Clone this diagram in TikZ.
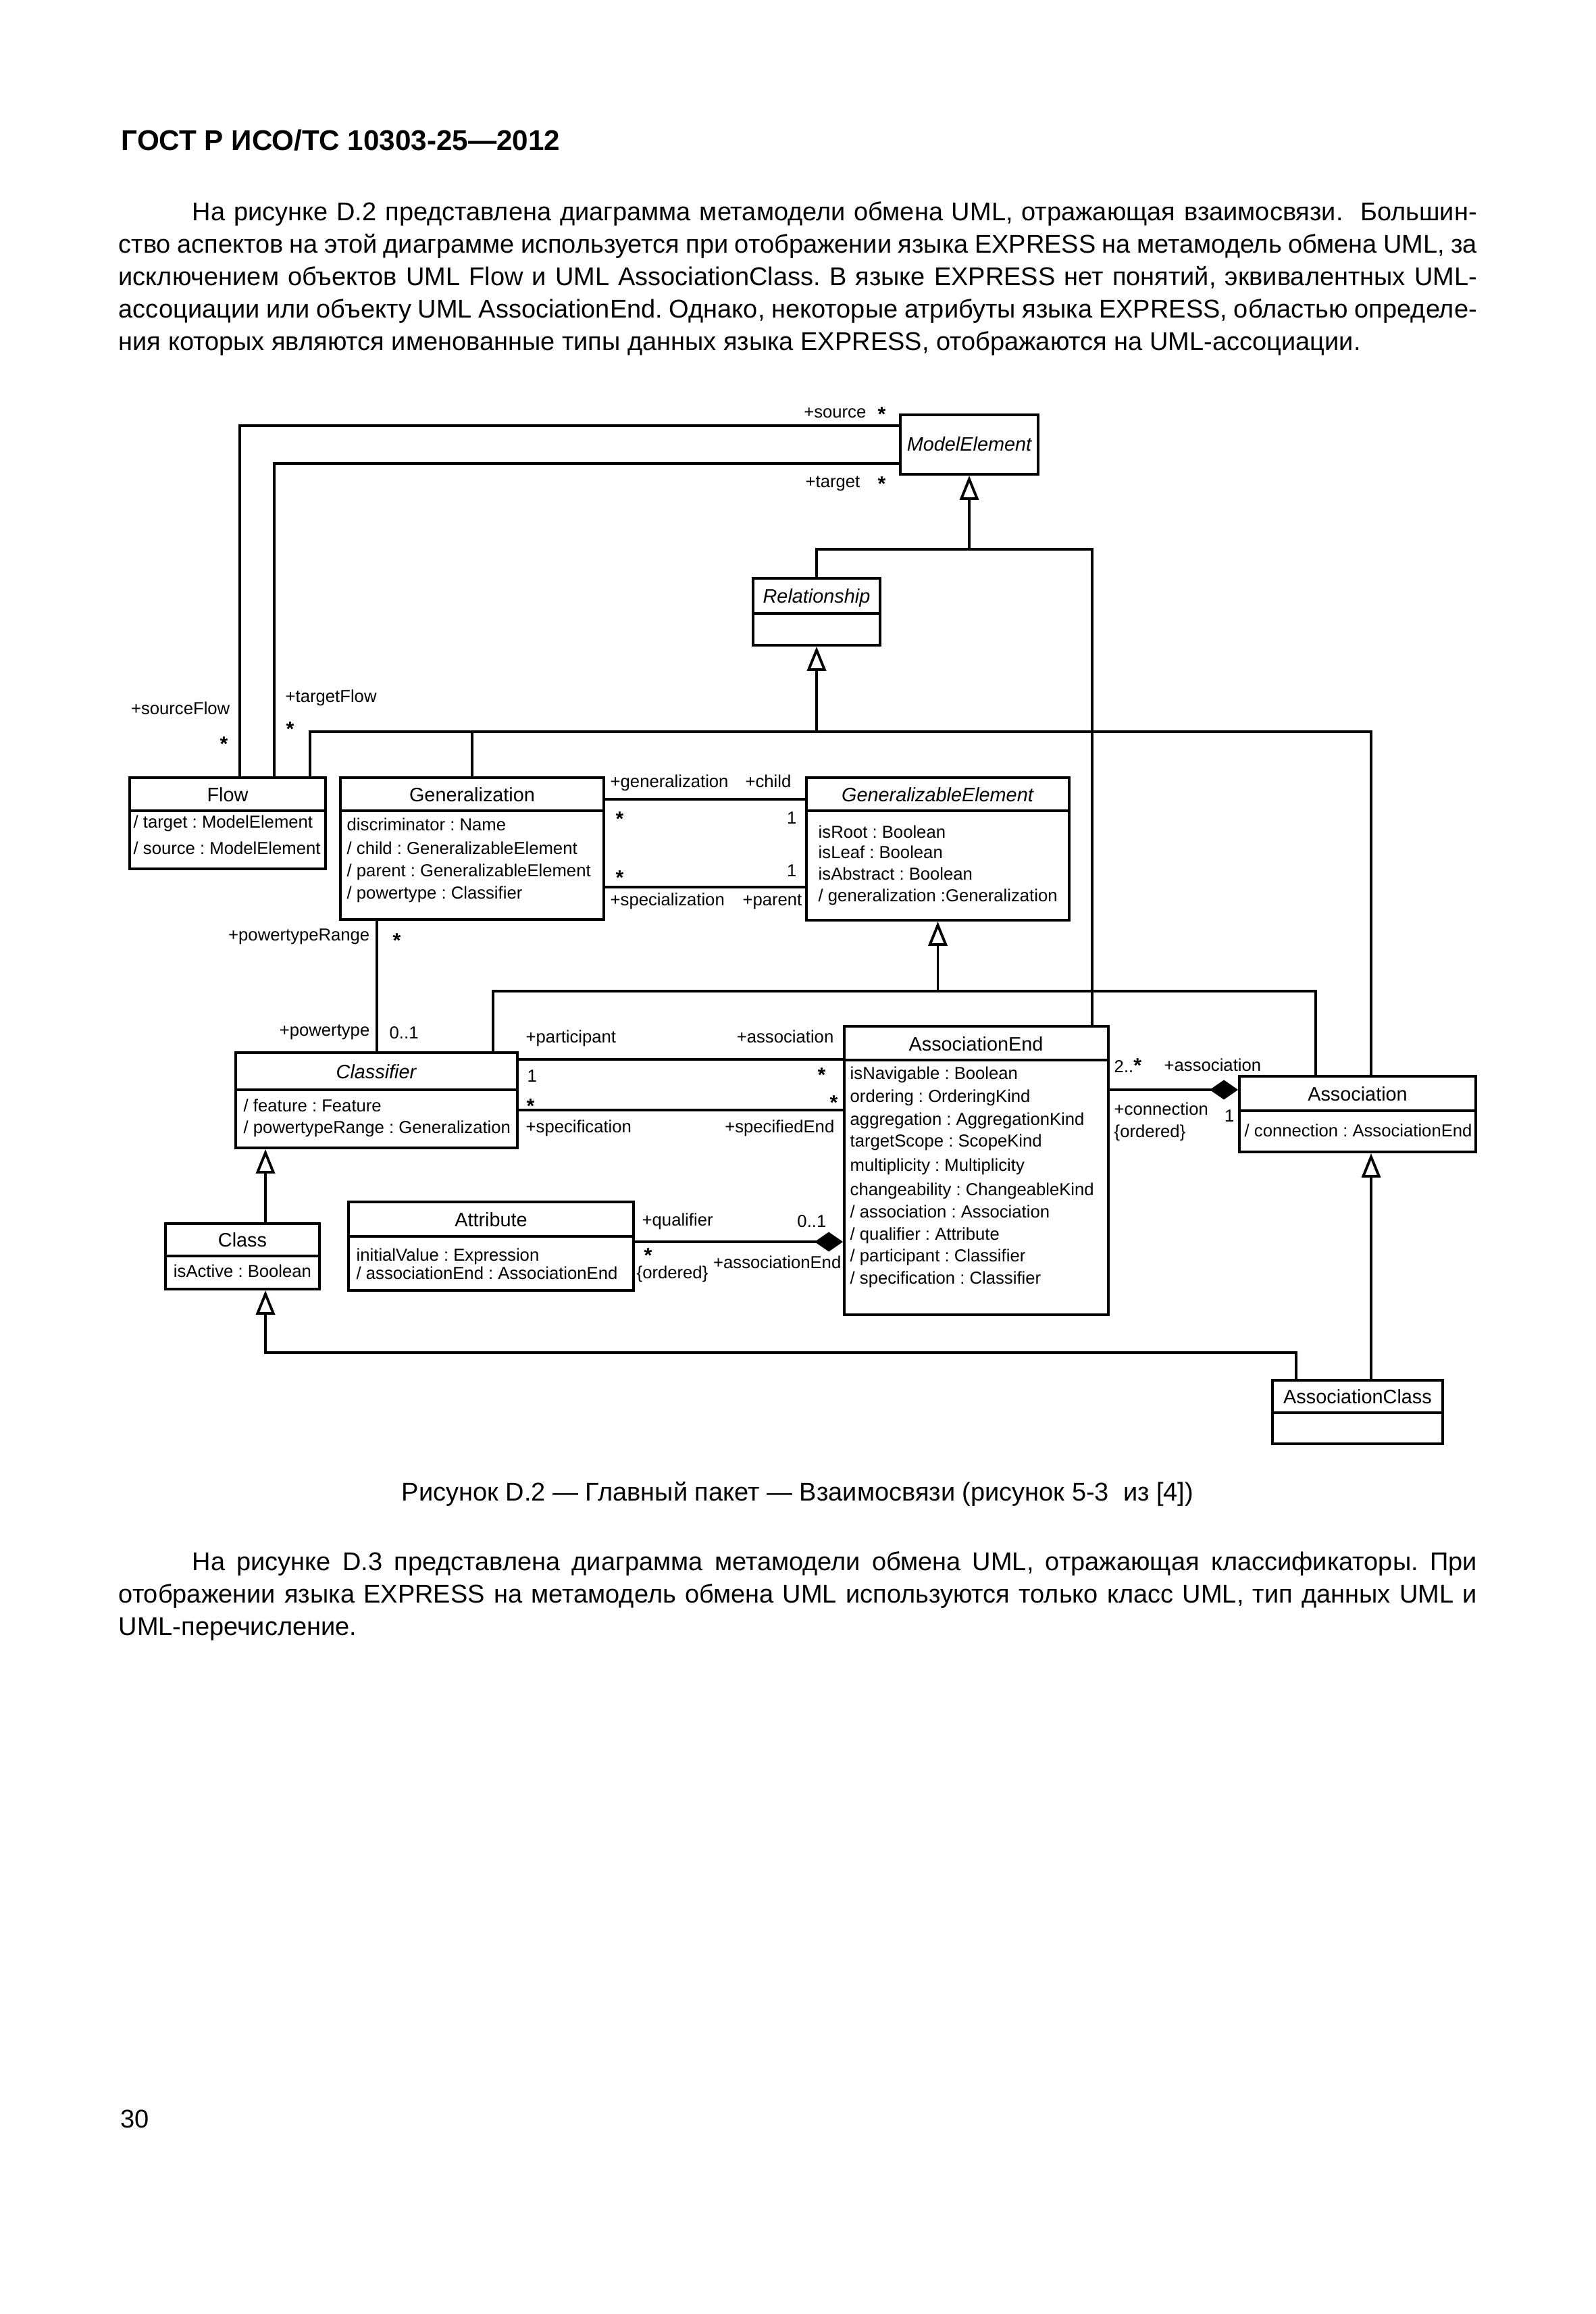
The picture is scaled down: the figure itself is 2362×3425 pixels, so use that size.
\documentclass[tikz,border=0pt]{standalone}
\usepackage{fontspec}
\setmainfont{Liberation Sans}
\usetikzlibrary{arrows.meta,fit}
\frenchspacing
\newcommand\dgtxt{\fontsize{7.3}{8.8}\selectfont}
\newcommand\dgname{\fontsize{8.2}{9.8}\selectfont}
\newcommand\bodytxt{\fontsize{10.8}{13.7}\selectfont}
\newcommand\headtxt{\fontsize{12}{14}\selectfont\bfseries}
\newcommand\mstar{{\fontsize{8.6}{9}\selectfont\bfseries *}}
\begin{document}
\begin{tikzpicture}[x=0.01cm,y=-0.01cm,
  cline/.style={line width=1pt},
  umlbox/.style={draw,line width=1.1pt,inner sep=0pt},
  genz/.style={cline,-{Triangle[open,length=0.36cm,width=0.28cm,line width=1.1pt]}},
  compo/.style={cline,-{Diamond[length=0.42cm,width=0.29cm]}},
  lbw/.style={inner sep=0pt,font=\dgtxt,anchor=base west},
  lbe/.style={inner sep=0pt,font=\dgtxt,anchor=base east},
  nm/.style={inner sep=0pt,font=\dgname,anchor=base},
  nmi/.style={inner sep=0pt,font=\dgname\itshape,anchor=base},
  attrx/.style={inner sep=0pt,font=\dgtxt,anchor=base west},
  bt/.style={inner sep=0pt,font=\bodytxt,anchor=base west}]
\useasboundingbox (0,0) rectangle (2362,3425);
\fill[white] (0,0) rectangle (2362,3425);

% ---------- page text ----------
\node[inner sep=0pt,font=\headtxt,anchor=base west] (head) at (179,223) {ГОСТ Р ИСО/ТС 10303-25—2012};
\node[bt] (p1) at (284,327) {\makebox[19.01cm][s]{На рисунке D.2 представлена диаграмма метамодели обмена UML, отражающая взаимосвязи. \ Большин-}};
\node[bt] (p2) at (175,375) {\makebox[20.10cm][s]{ство аспектов на этой диаграмме используется при отображении языка EXPRESS на метамодель обмена UML, за}};
\node[bt] (p3) at (175,423) {\makebox[20.10cm][s]{исключением объектов UML Flow и UML AssociationClass. В языке EXPRESS нет понятий, эквивалентных UML-}};
\node[bt] (p4) at (175,471) {\makebox[20.10cm][s]{ассоциации или объекту UML AssociationEnd. Однако, некоторые атрибуты языка EXPRESS, областью определе-}};
\node[bt] (p5) at (175,519) {ния которых являются именованные типы данных языка EXPRESS, отображаются на UML-ассоциации.};

\node[inner sep=0pt,font=\bodytxt,anchor=base] (cap) at (1181,2221) {Рисунок D.2 — Главный пакет — Взаимосвязи (рисунок 5-3\ \ из [4])};
\node[bt] (q1) at (284,2324) {\makebox[19.01cm][s]{На рисунке D.3 представлена диаграмма метамодели обмена UML, отражающая классификаторы. При}};
\node[bt] (q2) at (175,2372) {\makebox[20.10cm][s]{отображении языка EXPRESS на метамодель обмена UML используются только класс UML, тип данных UML и}};
\node[bt] (q3) at (175,2420) {UML-перечисление.};
\node[bt] (pg) at (178,3149) {30};

% ---------- boxes ----------
\node[umlbox,fit={(1333,614) (1537,702)}] (me) {};
\node[umlbox,fit={(1115,856) (1303,955)}] (rel) {};
\draw[umlbox] (rel.west |- 0,908) -- (rel.east |- 0,908);
\node[umlbox,fit={(192,1151) (482,1286)}] (flow) {};
\draw[umlbox] (flow.west |- 0,1200) -- (flow.east |- 0,1200);
\node[umlbox,fit={(504,1151) (894,1361)}] (gen) {};
\draw[umlbox] (gen.west |- 0,1200) -- (gen.east |- 0,1200);
\node[umlbox,fit={(1194,1151) (1583,1362)}] (ge) {};
\draw[umlbox] (ge.west |- 0,1200) -- (ge.east |- 0,1200);
\node[umlbox,fit={(349,1558) (766,1699)}] (cf) {};
\draw[umlbox] (cf.west |- 0,1613) -- (cf.east |- 0,1613);
\node[umlbox,fit={(1250,1519) (1641,1946)}] (ae) {};
\draw[umlbox] (ae.west |- 0,1569) -- (ae.east |- 0,1569);
\node[umlbox,fit={(1835,1593) (2185,1705)}] (assoc) {};
\draw[umlbox] (assoc.west |- 0,1644) -- (assoc.east |- 0,1644);
\node[umlbox,fit={(245,1811) (473,1908)}] (cls) {};
\draw[umlbox] (cls.west |- 0,1859) -- (cls.east |- 0,1859);
\node[umlbox,fit={(516,1779) (938,1910)}] (attr) {};
\draw[umlbox] (attr.west |- 0,1830) -- (attr.east |- 0,1830);
\node[umlbox,fit={(1884,2043) (2136,2137)}] (acl) {};
\draw[umlbox] (acl.west |- 0,2091) -- (acl.east |- 0,2091);

% ---------- names ----------
\node[nmi] (meN) at (1435,668) {ModelElement};
\node[nmi] (relN) at (1209,892) {Relationship};
\node[nm] (flowN) at (337,1186) {Flow};
\node[nm] (genN) at (699,1186) {Generalization};
\node[nmi] (geN) at (1388,1186) {GeneralizableElement};
\node[nmi] (cfN) at (557,1596) {Classifier};
\node[nm] (aeN) at (1445,1555) {AssociationEnd};
\node[nm] (assocN) at (2010,1629) {Association};
\node[nm] (clsN) at (359,1845) {Class};
\node[nm] (attrN) at (727,1815) {Attribute};
\node[nm] (aclN) at (2010,2077) {AssociationClass};

% ---------- attributes ----------
\node[attrx] (fa1) at (197,1225) {/ target : ModelElement};
\node[attrx] (fa2) at (197,1264) {/ source : ModelElement};
\node[attrx] (ga1) at (513,1229) {discriminator : Name};
\node[attrx] (ga2) at (513,1264) {/ child : GeneralizableElement};
\node[attrx] (ga3) at (513,1297) {/ parent : GeneralizableElement};
\node[attrx] (ga4) at (513,1330) {/ powertype : Classifier};
\node[attrx] (gea1) at (1211,1240) {isRoot : Boolean};
\node[attrx] (gea2) at (1211,1270) {isLeaf : Boolean};
\node[attrx] (gea3) at (1211,1302) {isAbstract : Boolean};
\node[attrx] (gea4) at (1211,1334) {/ generalization :Generalization};
\node[attrx] (cfa1) at (360,1645) {/ feature : Feature};
\node[attrx] (cfa2) at (360,1677) {/ powertypeRange : Generalization};
\node[attrx] (aea1) at (1258,1597) {isNavigable : Boolean};
\node[attrx] (aea2) at (1258,1631) {ordering : OrderingKind};
\node[attrx] (aea3) at (1258,1665) {aggregation : AggregationKind};
\node[attrx] (aea4) at (1258,1697) {targetScope : ScopeKind};
\node[attrx] (aea5) at (1258,1733) {multiplicity : Multiplicity};
\node[attrx] (aea6) at (1258,1769) {changeability : ChangeableKind};
\node[attrx] (aea7) at (1258,1802) {/ association : Association};
\node[attrx] (aea8) at (1258,1835) {/ qualifier : Attribute};
\node[attrx] (aea9) at (1258,1867) {/ participant : Classifier};
\node[attrx] (aea10) at (1258,1900) {/ specification : Classifier};
\node[attrx] (asa1) at (1842,1682) {/ connection : AssociationEnd};
\node[inner sep=0pt,font=\dgtxt,anchor=base] (cla1) at (359,1890) {isActive : Boolean};
\node[attrx] (ata1) at (527,1866) {initialValue : Expression};
\node[attrx] (ata2) at (527,1893) {/ associationEnd : AssociationEnd};

% ---------- connectors ----------
\draw[cline] (355,0 |- flow.north) |- (me.west |- 0,630);
\draw[cline] (406,0 |- flow.north) |- (me.west |- 0,686);
\draw[cline] (rel.north) |- (1617,813) -- (1617,0 |- ae.north);
\draw[genz] (me.south |- 0,813) -- (me.south);
\draw[cline] (459,0 |- flow.north) |- (2030,1083) -- (2030,0 |- assoc.north);
\draw[cline] (gen.north) -- (gen.north |- 0,1083);
\draw[genz] (rel.south |- 0,1083) -- (rel.south);
\draw[cline] (gen.east |- 0,1183) -- (ge.west |- 0,1183);
\draw[cline] (gen.east |- 0,1313) -- (ge.west |- 0,1313);
\draw[cline] (730,0 |- cf.north) |- (1948,1467) -- (1948,0 |- assoc.north);
\draw[genz] (ge.south |- 0,1467) -- (ge.south);
\draw[cline] (558,0 |- gen.south) -- (558,0 |- cf.north);
\draw[cline] (cf.east |- 0,1568) -- (ae.west |- 0,1568);
\draw[cline] (cf.east |- 0,1643) -- (ae.west |- 0,1643);
\draw[genz] (393,0 |- cls.north) -- (393,0 |- cf.south);
\draw[genz] (1919,0 |- acl.north) |- (393,2002) -- (393,0 |- cls.south);
\draw[genz] (2030,0 |- acl.north) -- (2030,0 |- assoc.south);
\draw[compo] (attr.east |- 0,1838) -- (ae.west |- 0,1838);
\draw[compo] (ae.east |- 0,1613) -- (assoc.west |- 0,1613);

% ---------- role labels ----------
\node[lbe] (l1) at (1283,619) {+source};
\node[lbw] (l2) at (1299,624) {\mstar};
\node[lbe] (l3) at (1274,722) {+target};
\node[lbw] (l4) at (1299,727) {\mstar};
\node[lbe] (l5) at (341,1057) {+sourceFlow};
\node[lbw] (l6) at (325,1111) {\mstar};
\node[lbw] (l7) at (422,1039) {+targetFlow};
\node[lbw] (l8) at (423,1089) {\mstar};
\node[lbw] (l9) at (903,1165) {+generalization};
\node[lbe] (l10) at (1172,1165) {+child};
\node[lbw] (l11) at (911,1222) {\mstar};
\node[lbe] (l12) at (1180,1219) {1};
\node[lbw] (l13) at (911,1309) {\mstar};
\node[lbe] (l14) at (1180,1297) {1};
\node[lbw] (l15) at (903,1340) {+specialization};
\node[lbe] (l16) at (1188,1340) {+parent};
\node[lbe] (l17) at (548,1392) {+powertypeRange};
\node[lbw] (l18) at (581,1402) {\mstar};
\node[lbe] (l19) at (548,1533) {+powertype};
\node[lbw] (l20) at (576,1537) {0..1};
\node[lbw] (l21) at (778,1543) {+participant};
\node[lbe] (l22) at (1235,1543) {+association};
\node[lbw] (l23) at (780,1601) {1};
\node[lbe] (l24) at (1223,1601) {\mstar};
\node[lbw] (l25) at (779,1647) {\mstar};
\node[lbe] (l26) at (1241,1642) {\mstar};
\node[lbw] (l27) at (778,1676) {+specification};
\node[lbe] (l28) at (1236,1676) {+specifiedEnd};
\node[lbw] (l29) at (950,1814) {+qualifier};
\node[lbe] (l30) at (1224,1816) {0..1};
\node[lbw] (l31) at (953,1868) {\mstar};
\node[lbw] (l32) at (942,1892) {\{ordered\}};
\node[lbe] (l33) at (1246,1877) {+associationEnd};
\node[lbw] (l34) at (1649,1587) {2..\mstar};
\node[lbw] (l35) at (1723,1585) {+association};
\node[lbw] (l36) at (1649,1650) {+connection};
\node[lbw] (l37) at (1649,1683) {\{ordered\}};
\node[lbe] (l38) at (1828,1660) {1};
\end{tikzpicture}
\end{document}
